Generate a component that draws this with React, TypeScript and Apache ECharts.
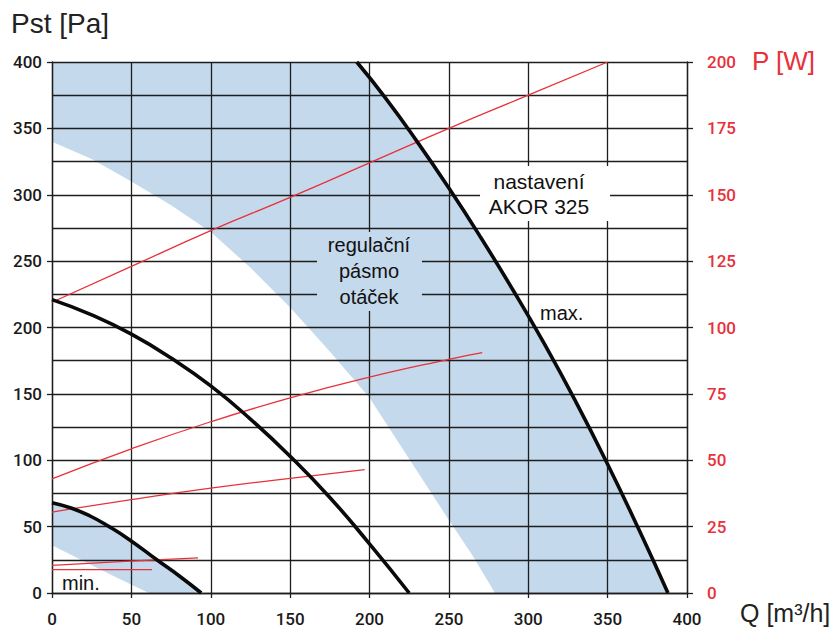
import React, { useEffect, useRef } from "react";
import * as echarts from "echarts";

// Q [m3/h] vs Pst [Pa]
const maxCurve: [number, number][] = [
  [192, 400], [210, 373], [230, 340], [250, 305], [270, 268], [290, 229],
  [310, 188], [330, 144], [350, 97], [370, 47], [388, 0],
];
const midCurve: [number, number][] = [
  [0, 221], [25, 209.5], [50, 195], [75, 177], [100, 156], [125, 131],
  [150, 103], [175, 72], [200, 37], [225, 0],
];
const minCurve: [number, number][] = [
  [0, 68], [12, 64], [24, 58], [36, 50], [49, 40], [66, 25], [80, 13], [94, 0],
];
// lower edges of the blue regulation bands
const bandLowerMain: [number, number][] = [
  [0, 340], [25, 327], [50, 310], [75, 292], [100, 272], [125, 245],
  [150, 215], [175, 182], [200, 147], [225, 101], [250, 55], [265, 28], [279, 0],
];
const bandLowerMin: [number, number][] = [[0, 36], [20, 24], [40, 12], [61, 0]];

// Q [m3/h] vs P [W]
const power1: [number, number][] = [
  [0, 109.5], [50, 123], [100, 136.5], [150, 149], [200, 162], [250, 175], [300, 187.5], [350, 200],
];
const power2: [number, number][] = [
  [0, 43], [50, 54.3], [100, 64.5], [150, 73.5], [200, 81.3], [250, 88], [271, 90.5],
];
const power3: [number, number][] = [[0, 30.5], [50, 35.2], [100, 39.5], [150, 43.2], [197, 46.5]];
const power4: [number, number][] = [[0, 10.4], [46, 11.9], [92, 13.2]];
const power5: [number, number][] = [[0, 8.8], [63, 8.8]];

const BLUE = "#c4d9ec";
const RED = "#e8313a";
const GRID = "#1e1e1e";
const TICK_FONT = "Roboto, 'Liberation Sans', Arial, sans-serif";
const TEXT_FONT = "'Liberation Sans', Arial, Helvetica, sans-serif";

const bands: [number, number][][] = [
  [[0, 400], ...maxCurve, ...[...bandLowerMain].reverse()],
  [...minCurve, ...[...bandLowerMin].reverse()],
];

export default function App() {
  const ref = useRef<HTMLDivElement>(null);
  useEffect(() => {
    if (!ref.current) return;
    const chart = echarts.init(ref.current, undefined, { renderer: "svg" });
    const gridLine = { show: true, lineStyle: { color: GRID, width: 1.3 } };
    const blackLine = (data: [number, number][]) => ({
      type: "line",
      data,
      smooth: true,
      showSymbol: false,
      symbol: "none",
      silent: true,
      lineStyle: { color: "#0a0a0a", width: 3.6 },
      z: 5,
    });
    const redLine = (data: [number, number][]) => ({
      type: "line",
      yAxisIndex: 1,
      data,
      smooth: true,
      showSymbol: false,
      symbol: "none",
      silent: true,
      lineStyle: { color: RED, width: 1.3 },
      z: 4,
    });
    chart.setOption({
      animation: false,
      grid: { left: 52, right: 150, top: 62, bottom: 37, containLabel: false },
      xAxis: {
        type: "value",
        min: 0,
        max: 400,
        interval: 50,
        z: 2,
        axisLine: { show: true, onZero: false, lineStyle: { color: GRID, width: 1.3 } },
        axisTick: { show: true, length: 5, lineStyle: { color: GRID, width: 1.3 } },
        axisLabel: { color: "#1a1a1a", fontSize: 17, fontFamily: TICK_FONT, fontWeight: 500, margin: 17 },
        splitLine: gridLine,
      },
      yAxis: [
        {
          type: "value",
          min: 0,
          max: 400,
          interval: 50,
          position: "left",
          z: 2,
          axisLine: { show: true, onZero: false, lineStyle: { color: GRID, width: 1.3 } },
          axisTick: { show: true, length: 5, lineStyle: { color: GRID, width: 1.3 } },
          axisLabel: { color: "#1a1a1a", fontSize: 17, fontFamily: TICK_FONT, fontWeight: 500, margin: 10 },
          splitLine: gridLine,
          minorTick: { show: false, splitNumber: 2 },
          minorSplitLine: gridLine,
        },
        {
          type: "value",
          min: 0,
          max: 200,
          interval: 25,
          position: "right",
          z: 2,
          axisLine: { show: true, onZero: false, lineStyle: { color: GRID, width: 1.3 } },
          axisTick: { show: true, length: 6, lineStyle: { color: GRID, width: 1.3 } },
          axisLabel: { color: RED, fontSize: 17, fontFamily: TICK_FONT, fontWeight: 500, margin: 20 },
          splitLine: { show: false },
        },
      ],
      series: [
        {
          type: "custom",
          data: [[0, 0], [1, 0]],
          silent: true,
          clip: true,
          z: 0,
          renderItem: (params: any, api: any) => {
            const poly = bands[params.dataIndex];
            return {
              type: "polygon",
              shape: { points: poly.map((p) => api.coord(p)) },
              style: { fill: BLUE, stroke: "none" },
            };
          },
        },
        blackLine(maxCurve),
        blackLine(midCurve),
        blackLine(minCurve),
        redLine(power1),
        redLine(power2),
        redLine(power3),
        redLine(power4),
        redLine(power5),
      ],
      graphic: [
        {
          type: "text",
          left: 11,
          top: 9,
          z: 100,
          style: { text: "Pst [Pa]", fontSize: 28, fontFamily: TEXT_FONT, fill: "#222" },
        },
        {
          type: "text",
          left: 752,
          top: 48,
          z: 100,
          style: { text: "P [W]", fontSize: 26, fontFamily: TEXT_FONT, fill: RED },
        },
        {
          type: "text",
          left: 740,
          top: 600,
          z: 100,
          style: { text: "Q [m³/h]", fontSize: 25, fontFamily: TEXT_FONT, fill: "#222" },
        },
        {
          type: "rect",
          z: 100,
          shape: { x: 480, y: 166, width: 130, height: 55 },
          style: { fill: "#ffffff" },
        },
        {
          type: "text",
          z: 101,
          x: 539,
          y: 194,
          style: {
            text: "nastavení\nAKOR 325",
            fontSize: 21,
            lineHeight: 25,
            fontFamily: TEXT_FONT,
            fill: "#111",
            align: "center",
            verticalAlign: "middle",
          },
        },
        {
          type: "rect",
          z: 100,
          shape: { x: 317, y: 232, width: 105, height: 79 },
          style: { fill: BLUE },
        },
        {
          type: "text",
          z: 101,
          x: 369,
          y: 271,
          style: {
            text: "regulační\npásmo\notáček",
            fontSize: 20,
            lineHeight: 26,
            fontFamily: TEXT_FONT,
            fill: "#111",
            align: "center",
            verticalAlign: "middle",
          },
        },
        {
          type: "text",
          z: 101,
          x: 540,
          y: 313,
          style: { text: "max.", fontSize: 20, fontFamily: TEXT_FONT, fill: "#111", verticalAlign: "middle" },
        },
        {
          type: "text",
          z: 101,
          x: 62,
          y: 583,
          style: { text: "min.", fontSize: 20, fontFamily: TEXT_FONT, fill: "#111", verticalAlign: "middle" },
        },
      ],
    });
    return () => chart.dispose();
  }, []);
  return (
    <div
      ref={ref}
      style={{ position: "absolute", left: 0, top: 0, width: 837, height: 630, background: "#fff" }}
    />
  );
}
